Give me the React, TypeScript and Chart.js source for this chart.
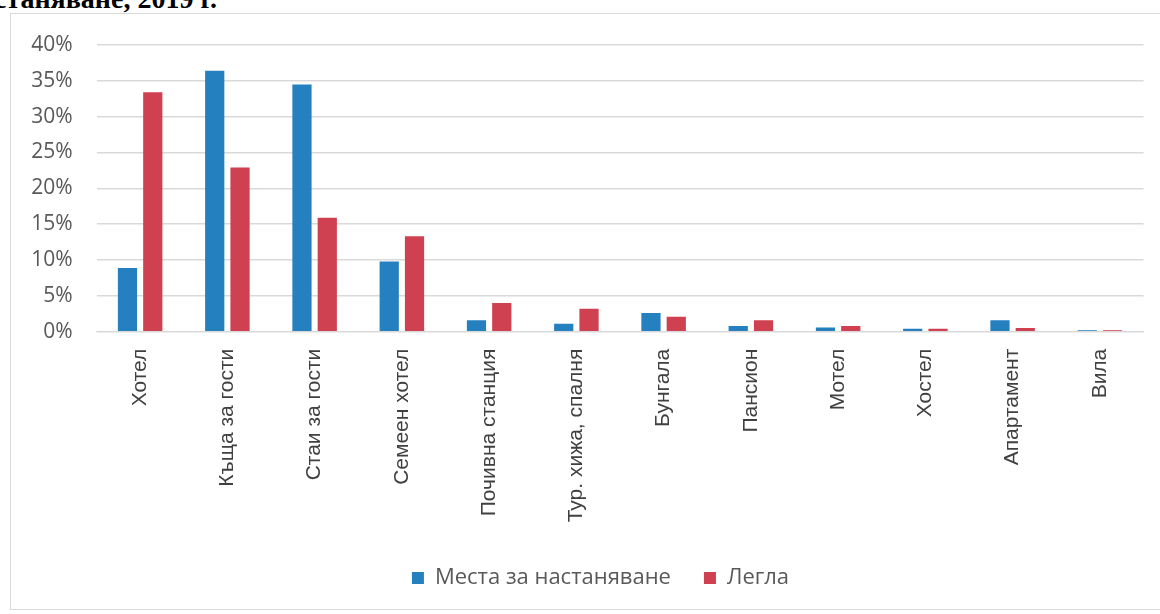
import React, { useEffect, useRef } from "react";
import { Chart, registerables } from "chart.js";

Chart.register(...registerables);

const categories = [
  "Хотел",
  "Къща за гости",
  "Стаи за гости",
  "Семеен хотел",
  "Почивна станция",
  "Тур. хижа, спалня",
  "Бунгала",
  "Пансион",
  "Мотел",
  "Хостел",
  "Апартамент",
  "Вила",
];
const placesValues = [8.9, 36.4, 34.5, 9.8, 1.6, 1.1, 2.6, 0.8, 0.6, 0.4, 1.6, 0.2];
const bedsValues = [33.4, 22.9, 15.9, 13.3, 4.0, 3.2, 2.1, 1.6, 0.8, 0.4, 0.5, 0.2];
const seriesLabels = ["Места за настаняване", "Легла"];
const yMax = 40;
const yStep = 5;
const titleText = "настаняване, 2019 г.";

const shiftLegend = {
  id: "shiftLegend",
  afterLayout(chart: any) {
    if (chart.legend) {
      chart.legend.left += 23.75;
      chart.legend.right += 23.75;
    }
  },
};

export default function App() {
  const ref = useRef<HTMLCanvasElement | null>(null);

  useEffect(() => {
    if (!ref.current) return;
    const chart = new Chart(ref.current, {
      type: "bar",
      data: {
        labels: categories,
        datasets: [
          {
            label: seriesLabels[0],
            data: placesValues,
            backgroundColor: "#2580c0",
            categoryPercentage: 0.58,
            barPercentage: 0.76,
          },
          {
            label: seriesLabels[1],
            data: bedsValues,
            backgroundColor: "#cf4150",
            categoryPercentage: 0.58,
            barPercentage: 0.76,
          },
        ],
      },
      options: {
        responsive: false,
        animation: false,
        layout: { padding: { left: 0, right: 26.5, top: 32, bottom: 11 } },
        plugins: {
          legend: {
            position: "bottom",
            labels: {
              boxWidth: 12,
              boxHeight: 12,
              padding: 33,
              color: "#595959",
              font: { family: "'Open Sans'", size: 22 },
            },
          },
          tooltip: { enabled: false },
          title: { display: false },
        },
        scales: {
          x: {
            grid: { display: false, drawTicks: false },
            border: { display: true, color: "#d9d9d9" },
            ticks: {
              minRotation: 90,
              maxRotation: 90,
              padding: 17,
              color: "#404040",
              font: { family: "'Liberation Sans'", size: 21 },
              autoSkip: false,
            },
            afterFit: (s: any) => {
              s.height = 202.3;
            },
          },
          y: {
            min: 0,
            max: yMax,
            ticks: {
              stepSize: yStep,
              padding: 24,
              color: "#595959",
              font: { family: "'Open Sans'", size: 21, lineHeight: 0.6 },
              callback: (v: any) => v + "%",
            },
            grid: { color: "#d9d9d9", drawTicks: false, lineWidth: 1.5 },
            border: { display: false },
            afterFit: (s: any) => {
              s.width = 86.5;
            },
          },
        },
      },
      plugins: [shiftLegend],
    });
    return () => chart.destroy();
  }, []);

  return (
    <div>
      <div
        style={{
          position: "absolute",
          left: 0,
          top: -17,
          width: 217,
          overflow: "hidden",
          display: "flex",
          justifyContent: "flex-end",
          whiteSpace: "nowrap",
          font: "bold 28px 'Liberation Serif'",
          lineHeight: "32px",
          color: "#000",
        }}
      >
        <span style={{ flexShrink: 0 }}>{titleText}</span>
      </div>
      <div
        style={{
          position: "absolute",
          left: 10,
          top: 13,
          width: 1160,
          height: 597,
          boxSizing: "border-box",
          border: "1.5px solid #d9d9d9",
        }}
      />
      <canvas
        ref={ref}
        width={1160}
        height={597}
        style={{ position: "absolute", left: 10, top: 13, width: 1160, height: 597 }}
      />
    </div>
  );
}
